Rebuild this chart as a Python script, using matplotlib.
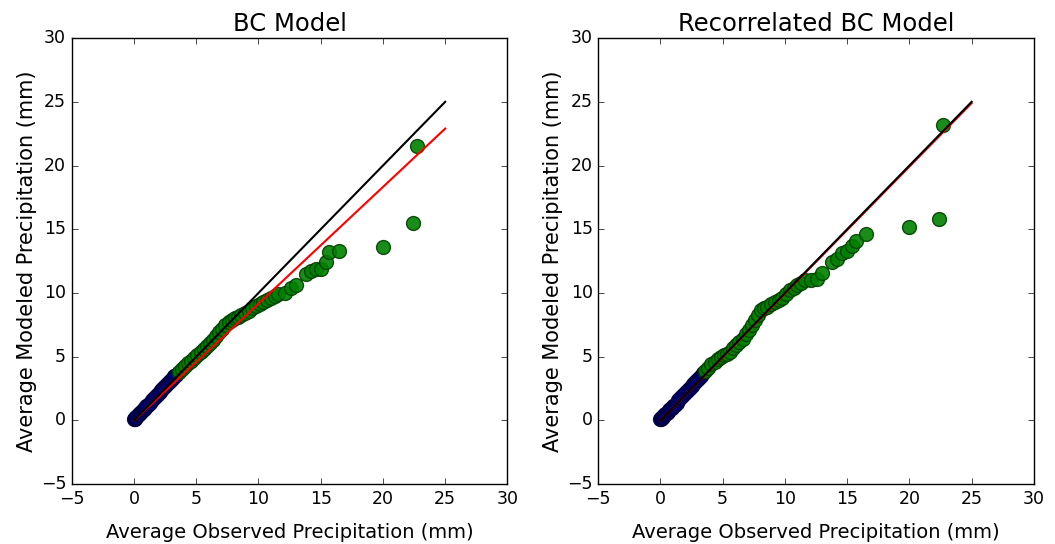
import matplotlib
matplotlib.use("Agg")
import matplotlib.pyplot as plt

# observed quantiles (shared by both panels)
obs_low = [0.0, 0.05, 0.1, 0.15, 0.2, 0.3, 0.4, 0.5, 0.6, 0.7, 0.8, 0.9, 1.0,
           1.15, 1.3, 1.45, 1.6, 1.75, 1.9, 2.05, 2.2, 2.35, 2.5, 2.65, 2.8,
           2.95, 3.1, 3.25, 3.4]
obs_high = [3.6, 3.85, 4.1, 4.35, 4.6, 4.85, 5.1, 5.35, 5.6, 5.85, 6.1, 6.35,
            6.6, 6.85, 7.1, 7.35, 7.6, 7.85, 8.1, 8.35, 8.6, 8.9, 9.2, 9.5,
            9.8, 10.1, 10.4, 10.7, 11.0, 11.3, 11.6, 12.1, 12.6, 13.0, 13.8,
            14.2, 14.6, 15.0, 15.4, 15.7, 16.5, 20.0, 22.4, 22.7]

# BC model quantiles
bc_low = [0.1, 0.15, 0.2, 0.25, 0.3, 0.4, 0.5, 0.6, 0.7, 0.8, 0.9, 1.0, 1.1,
          1.25, 1.4, 1.6, 1.75, 1.9, 2.1, 2.25, 2.4, 2.55, 2.7, 2.85, 3.0,
          3.15, 3.3, 3.45, 3.6]
bc_high = [3.8, 4.05, 4.3, 4.5, 4.7, 4.9, 5.1, 5.35, 5.6, 5.85, 6.1, 6.35,
           6.6, 6.9, 7.2, 7.45, 7.7, 7.85, 8.0, 8.15, 8.3, 8.45, 8.6, 8.8,
           9.0, 9.15, 9.3, 9.45, 9.6, 9.75, 9.9, 10.0, 10.4, 10.6, 11.5,
           11.7, 11.9, 11.9, 12.4, 13.2, 13.3, 13.6, 15.5, 21.5]

# Recorrelated BC model quantiles
rbc_low = [0.1, 0.15, 0.2, 0.25, 0.3, 0.4, 0.5, 0.6, 0.7, 0.8, 0.9, 1.0, 1.1,
           1.25, 1.4, 1.6, 1.75, 1.9, 2.1, 2.25, 2.4, 2.55, 2.7, 2.85, 3.05,
           3.2, 3.35, 3.5, 3.7]
rbc_high = [3.9, 4.15, 4.4, 4.6, 4.8, 4.95, 5.1, 5.25, 5.4, 5.65, 5.9, 6.15,
            6.4, 6.75, 7.1, 7.5, 7.9, 8.3, 8.7, 8.8, 8.9, 9.1, 9.3, 9.45,
            9.6, 9.9, 10.2, 10.4, 10.6, 10.8, 11.0, 11.0, 11.1, 11.6, 12.4,
            12.7, 13.1, 13.3, 13.7, 14.1, 14.6, 15.2, 15.8, 23.2]

line_x = [0, 25]
fit_bc = [0.0, 22.9]
fit_rbc = [0.0, 24.9]

plt.style.use("classic")
fig = plt.figure(figsize=(10.55, 5.44), dpi=100)
fig.patch.set_facecolor("white")

panels = [
    ("BC Model", bc_low, bc_high, fit_bc, [0.068, 0.11, 0.413, 0.82]),
    ("Recorrelated BC Model", rbc_low, rbc_high, fit_rbc, [0.567, 0.11, 0.413, 0.82]),
]

for title, low, high, fit, rect in panels:
    ax = fig.add_axes(rect)
    ax.scatter(obs_low, low, s=100, c="navy", edgecolors="#000040", alpha=0.9, zorder=1)
    ax.scatter(obs_high, high, s=100, c="green", edgecolors="#004000", alpha=0.9, zorder=1)
    ax.plot(line_x, fit, color="red", lw=1.5, zorder=2)
    ax.plot(line_x, line_x, color="black", lw=1.5, zorder=2)
    ax.set_xlim(-5, 30)
    ax.set_ylim(-5, 30)
    ax.set_title(title, fontsize=17.5)
    ax.set_xlabel("Average Observed Precipitation (mm)", fontsize=14, labelpad=11)
    ax.set_ylabel("Average Modeled Precipitation (mm)", fontsize=15, labelpad=3)
    ax.tick_params(labelsize=12.5)

plt.savefig("out.png", dpi=100, facecolor="white")
plt.close()
